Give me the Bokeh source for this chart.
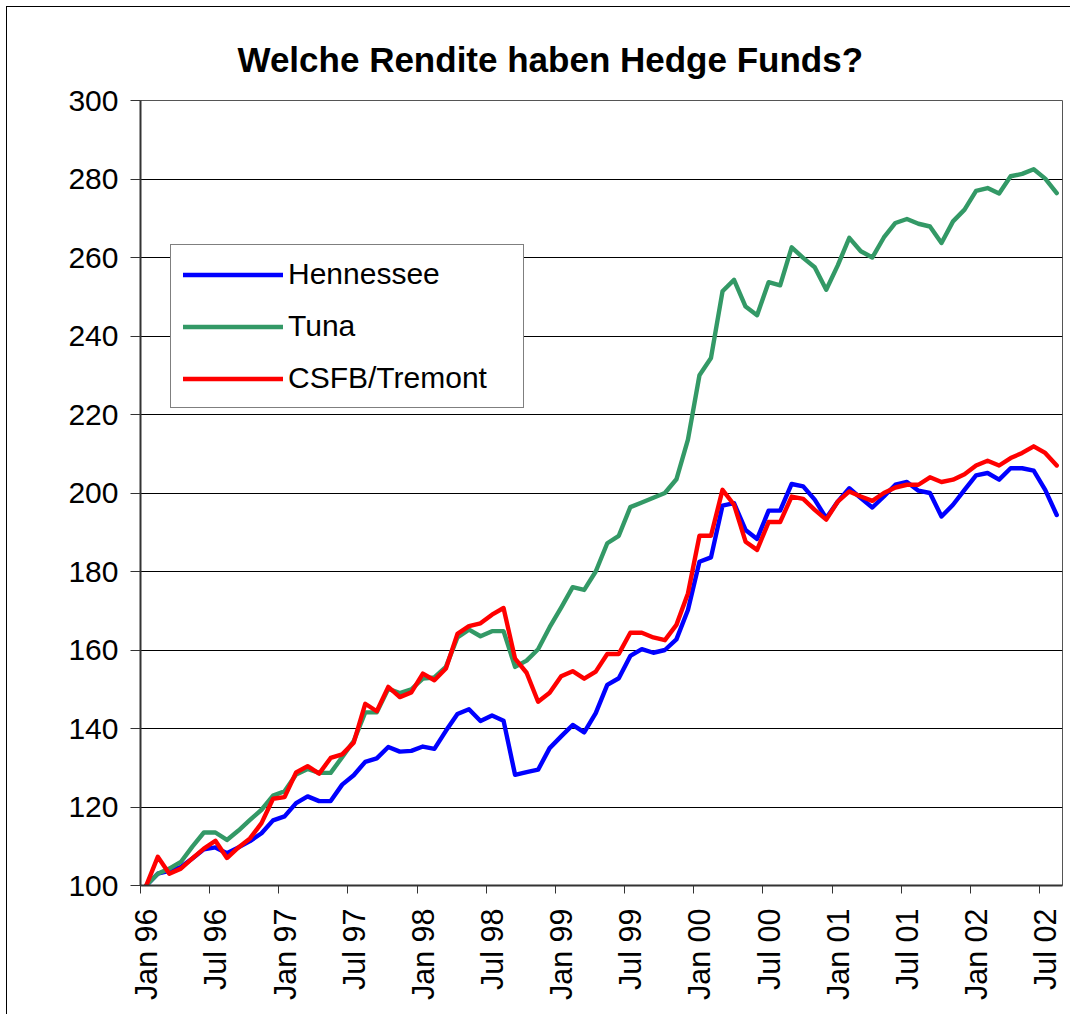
import numpy as np
from bokeh.plotting import figure
from bokeh.models import Range1d, FixedTicker, Legend, LegendItem, Title, ColumnDataSource
from bokeh.embed import file_html
from bokeh.resources import INLINE

# ---- data (monthly index values, Jan 96 .. Aug 02) ----
month_names = ["Jan", "Feb", "Mar", "Apr", "May", "Jun", "Jul", "Aug", "Sep", "Oct", "Nov", "Dec"]

hennessee = [100.0, 103.0, 103.7, 104.7, 106.9, 109.2, 109.7, 108.2, 109.7, 111.3,
             113.3, 116.6, 117.6, 121.0, 122.7, 121.5, 121.5, 125.7, 128.1, 131.5,
             132.4, 135.3, 134.1, 134.3, 135.4, 134.8, 139.4, 143.7, 144.9, 141.9,
             143.3, 142.0, 128.2, 128.9, 129.5, 135.0, 138.0, 140.9, 139.0, 143.9,
             151.1, 152.8, 158.5, 160.2, 159.3, 160.0, 162.7, 170.2, 182.5, 183.6,
             196.8, 197.4, 190.6, 188.3, 195.5, 195.5, 202.3, 201.7, 198.3, 193.6,
             197.8, 201.2, 198.7, 196.3, 199.1, 202.1, 202.8, 200.6, 200.0, 194.0,
             197.0, 200.8, 204.5, 205.1, 203.4, 206.3, 206.3, 205.7, 200.8, 194.4]

tuna = [100.0, 103.0, 104.3, 106.0, 109.9, 113.5, 113.5, 111.6, 114.0, 116.7,
        119.3, 122.9, 124.0, 128.3, 129.7, 128.7, 128.7, 132.7, 136.8, 144.1,
        144.1, 150.1, 149.0, 150.0, 152.7, 153.0, 155.7, 163.2, 165.2, 163.5,
        164.8, 164.8, 155.7, 157.3, 160.2, 165.8, 170.8, 176.0, 175.3, 180.0,
        187.2, 189.1, 196.4, 197.6, 198.8, 200.0, 203.5, 213.6, 230.0, 234.4,
        251.4, 254.3, 247.5, 245.3, 253.7, 252.9, 262.6, 259.9, 257.5, 251.8,
        258.0, 265.0, 261.6, 260.0, 265.1, 268.8, 269.8, 268.6, 267.9, 263.7,
        269.2, 272.2, 277.0, 277.7, 276.3, 280.7, 281.3, 282.5, 280.1, 276.4]

csfb_tremont = [100.0, 107.3, 103.0, 104.3, 106.9, 109.4, 111.4, 107.0, 109.7, 112.0,
                115.9, 122.1, 122.5, 128.8, 130.4, 128.5, 132.5, 133.4, 136.4, 146.3,
                144.4, 150.6, 148.0, 149.2, 154.0, 152.3, 155.3, 164.1, 166.1, 166.8,
                169.0, 170.7, 157.8, 154.2, 146.8, 149.1, 153.3, 154.6, 152.7, 154.5,
                159.0, 159.0, 164.4, 164.4, 163.2, 162.5, 166.4, 174.4, 189.1, 189.1,
                200.8, 197.0, 187.6, 185.5, 192.6, 192.6, 199.1, 198.5, 195.7, 193.2,
                197.8, 200.4, 199.1, 198.0, 200.0, 201.4, 202.1, 202.1, 204.0, 202.8,
                203.4, 204.8, 207.0, 208.2, 207.0, 208.9, 210.2, 211.9, 210.2, 207.0]

months = ["%s %02d" % (month_names[i % 12], (96 + i // 12) % 100) for i in range(len(hennessee))]

tick_labels = ["Jan 96", "Jul 96", "Jan 97", "Jul 97", "Jan 98", "Jul 98", "Jan 99",
               "Jul 99", "Jan 00", "Jul 00", "Jan 01", "Jul 01", "Jan 02", "Jul 02"]
y_ticks = [100, 120, 140, 160, 180, 200, 220, 240, 260, 280, 300]

series_names = ["Hennessee", "Tuna", "CSFB/Tremont"]
series_colors = ["#0000FF", "#339966", "#FF0000"]

# ---- figure ----
FONT = "Liberation Sans"
n = len(months)
x = np.arange(n) + 0.5  # category centres

p = figure(width=1064, height=1008, output_backend="svg", toolbar_location=None,
           x_range=Range1d(0, n), y_range=Range1d(y_ticks[0], y_ticks[-1]),
           min_border_left=133, min_border_right=9, min_border_top=93, min_border_bottom=130)
p.title = None
p.styles = {"border-left": "1px solid #000000", "border-top": "1px solid #000000",
            "margin-left": "6px", "margin-top": "6px"}
p.background_fill_color = "white"
p.border_fill_color = "white"
p.outline_line_color = "#555555"
p.outline_line_width = 1

src = ColumnDataSource(dict(x=x, h=hennessee, t=tuna, c=csfb_tremont))
renderers = []
for col, color in zip(["h", "t", "c"], series_colors):
    r = p.line("x", col, source=src, line_color=color, line_width=4.4,
               line_join="round", line_cap="round")
    renderers.append(r)

# ---- axes ----
p.xgrid.visible = False
p.ygrid.ticker = FixedTicker(ticks=y_ticks)
p.ygrid.grid_line_color = "#000000"
p.ygrid.grid_line_width = 1

xa = p.xaxis[0]
centres = [months.index(lbl) + 0.5 for lbl in tick_labels]
bounds = [months.index(lbl) for lbl in tick_labels]
xa.ticker = FixedTicker(ticks=centres, minor_ticks=bounds)
xa.major_label_overrides = {c: lbl for c, lbl in zip(centres, tick_labels)}
xa.major_label_orientation = np.pi / 2
xa.major_tick_line_color = None
xa.major_tick_out = 0
xa.major_tick_in = 0
xa.minor_tick_out = 8
xa.minor_tick_in = 0
xa.minor_tick_line_color = "#333333"
xa.minor_tick_line_width = 1
xa.major_label_standoff = 15
xa.major_label_text_font = FONT
xa.major_label_text_font_size = "30.5px"
xa.major_label_text_color = "#000000"
xa.axis_line_color = "#333333"
xa.axis_line_width = 2

ya = p.yaxis[0]
ya.ticker = FixedTicker(ticks=y_ticks)
ya.major_tick_out = 10
ya.major_tick_in = 0
ya.minor_tick_line_color = None
ya.major_tick_line_color = "#333333"
ya.major_label_standoff = 12
ya.major_label_text_font = FONT
ya.major_label_text_font_size = "30px"
ya.major_label_text_color = "#000000"
ya.axis_line_color = "#333333"
ya.axis_line_width = 2

# ---- title ----
title = Title(text="Welche Rendite haben Hedge Funds?", align="left", offset=97,
              text_font=FONT, text_font_size="35px", text_font_style="bold",
              text_color="#000000", standoff=43)
p.add_layout(title, "above")

# ---- legend ----
legend = Legend(items=[LegendItem(label=nm, renderers=[r]) for nm, r in zip(series_names, renderers)],
                location=(30, 477), orientation="vertical",
                glyph_width=100, glyph_height=33, label_height=33, label_width=223,
                label_standoff=5, padding=12, spacing=18, margin=0,
                label_text_font=FONT, label_text_font_size="30px", label_text_color="#000000",
                label_text_baseline="middle",
                border_line_color="#000000", border_line_width=1,
                background_fill_color="white", background_fill_alpha=1.0)
p.add_layout(legend)

open("out.html", "w").write(file_html(p, INLINE))
